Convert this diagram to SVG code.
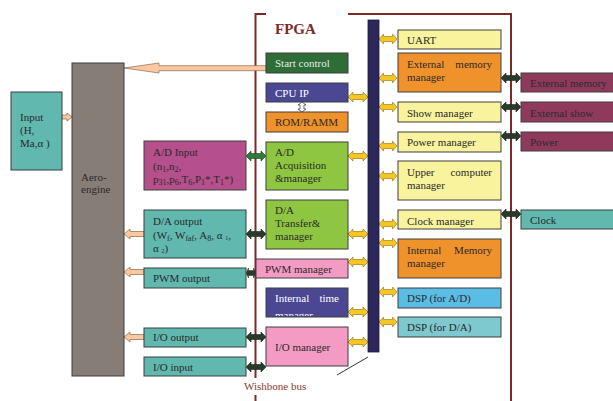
<svg xmlns="http://www.w3.org/2000/svg" width="613" height="401" viewBox="0 0 613 401">
<style>
text{font-family:"Liberation Serif","Times New Roman",serif;font-size:11px;fill:#2a2a2a}
.b{stroke:#3f3f3f;stroke-width:1}
.teal{fill:#60b8af}.grey{fill:#877d77}.mag{fill:#b5508c}.mar{fill:#8f3a5d}
.dg{fill:#2e6c38}.sl{fill:#4b4792}.or{fill:#f0922b}.lime{fill:#8fc641}
.pink{fill:#f49bc3}.ly{fill:#f8f39c}.sky{fill:#5bbde6}.dsp{fill:#7ec8d0}
.ya{fill:#f7c620;stroke:#8a6a10;stroke-width:0.6}
.da{fill:#2a3a2a;stroke:#1a241a;stroke-width:0.6}
.ga{fill:#2d7a3a;stroke:#1a401e;stroke-width:0.6}
.pa{fill:#fbc8a0;stroke:#8a6a50;stroke-width:0.7}
</style>
<defs>
<path id="dbl" d="M0,0 L5,-5 L5,-2.5 L15,-2.5 L15,-5 L20,0 L15,5 L15,2.5 L5,2.5 L5,5 Z"/>
<path id="lft" d="M0,0 L6,-5 L6,-2.5 L20,-2.5 L20,2.5 L6,2.5 L6,5 Z"/>
<clipPath id="itc"><rect x="266" y="288" width="82" height="28"/></clipPath>
</defs>
<rect width="613" height="401" fill="#ffffff"/>

<g id="fpga">
<rect x="255.5" y="14" width="255.5" height="400" fill="none" stroke="#7b2a2a" stroke-width="2"/>
<rect x="266" y="10" width="82" height="8" fill="#ffffff"/>
<text x="275" y="34" style="font-size:15px;font-weight:bold;fill:#7b2a2a">FPGA</text>
<rect x="237" y="378" width="105" height="17" fill="#ffffff"/>
<text x="244" y="390" style="fill:#8b3a2a">Wishbone bus</text>
<line x1="337" y1="375" x2="368" y2="357" stroke="#333" stroke-width="1"/>
</g>

<g id="connectors">
<polygon class="pa" points="124,68 159,63 159,65.7 266,65.7 266,70.7 159,70.7 159,73"/>
<polygon class="pa" points="72,117 67,113 67,115 62,115 62,119 67,119 67,121"/>
<use href="#lft" class="pa" transform="translate(124,234)"/>
<use href="#lft" class="pa" transform="translate(124,272)"/>
<use href="#lft" class="pa" transform="translate(124,337)"/>
<use href="#dbl" class="ga" transform="translate(246,156)"/>
<use href="#dbl" class="da" transform="translate(246,234)"/>
<use href="#dbl" class="da" transform="translate(246,273) scale(0.5,1)"/>
<use href="#dbl" class="da" transform="translate(246,337)"/>
<use href="#dbl" class="da" transform="translate(246,367)"/>
<path d="M302,102 L298,105 L300,105 L300,109 L298,109 L302,112 L306,109 L304,109 L304,105 L306,105 Z" fill="#ffffff" stroke="#333" stroke-width="0.7"/>
<use href="#dbl" class="ya" transform="translate(348,97)"/>
<use href="#dbl" class="ya" transform="translate(348,156)"/>
<use href="#dbl" class="ya" transform="translate(348,234)"/>
<use href="#dbl" class="ya" transform="translate(348,262)"/>
<use href="#dbl" class="ya" transform="translate(348,312)"/>
<use href="#dbl" class="ya" transform="translate(348,342)"/>
<use href="#dbl" class="ya" transform="translate(379,39) scale(0.9,1)"/>
<use href="#dbl" class="ya" transform="translate(379,78) scale(0.9,1)"/>
<use href="#dbl" class="ya" transform="translate(379,107) scale(0.9,1)"/>
<use href="#dbl" class="ya" transform="translate(379,146) scale(0.9,1)"/>
<use href="#dbl" class="ya" transform="translate(379,176) scale(0.9,1)"/>
<use href="#dbl" class="ya" transform="translate(379,224) scale(0.9,1)"/>
<use href="#dbl" class="ya" transform="translate(379,243) scale(0.9,1)"/>
<use href="#dbl" class="ya" transform="translate(379,292) scale(0.9,1)"/>
<use href="#dbl" class="ya" transform="translate(379,322) scale(0.9,1)"/>
<use href="#dbl" class="da" transform="translate(501,78)"/>
<use href="#dbl" class="da" transform="translate(501,107)"/>
<use href="#dbl" class="da" transform="translate(501,136)"/>
<use href="#dbl" class="da" transform="translate(501,214)"/>
</g>

<g id="input"><rect class="b teal" x="11" y="92" width="51" height="78"/>
<text x="20" y="121">Input</text><text x="20" y="134">(H,</text><text x="20" y="147">Ma,α )</text></g>
<g id="aero-engine"><rect class="b grey" x="72" y="63" width="52" height="313"/>
<text x="81" y="181">Aero-</text><text x="81" y="193">engine</text></g>

<g id="ad-input"><rect class="b mag" x="144" y="141" width="102" height="49"/>
<text x="153" y="156">A/D Input</text>
<text x="153" y="170">(n<tspan font-size="8" dy="2">1</tspan><tspan dy="-2">,n</tspan><tspan font-size="8" dy="2">2</tspan><tspan dy="-2">,</tspan></text>
<text x="153" y="183">p<tspan font-size="8" dy="2">31</tspan><tspan dy="-2">,p</tspan><tspan font-size="8" dy="2">6</tspan><tspan dy="-2">,T</tspan><tspan font-size="8" dy="2">6</tspan><tspan dy="-2">,P</tspan><tspan font-size="8" dy="2">1</tspan><tspan dy="-2">*,T</tspan><tspan font-size="8" dy="2">1</tspan><tspan dy="-2">*)</tspan></text></g>
<g id="da-output"><rect class="b teal" x="144" y="210" width="102" height="48"/>
<text x="153" y="225">D/A output</text>
<text x="153" y="239">(W<tspan font-size="8" dy="2">f</tspan><tspan dy="-2">, W</tspan><tspan font-size="8" dy="2">faf</tspan><tspan dy="-2">, A</tspan><tspan font-size="8" dy="2">8</tspan><tspan dy="-2">, α  </tspan><tspan font-size="6" dy="1">1</tspan><tspan dy="-1">,</tspan></text>
<text x="153" y="252">α <tspan font-size="6" dy="1">2</tspan><tspan dy="-1">)</tspan></text></g>
<g id="pwm-output"><rect class="b teal" x="144" y="268" width="102" height="20"/><text x="153" y="282">PWM output</text></g>
<g id="io-output"><rect class="b teal" x="144" y="328" width="102" height="19"/><text x="153" y="341">I/O output</text></g>
<g id="io-input"><rect class="b teal" x="144" y="357" width="102" height="19"/><text x="153" y="371">I/O input</text></g>

<g id="start-control"><rect class="b dg" x="266" y="53" width="82" height="20"/><text x="275" y="67" style="fill:#e6ece6">Start control</text></g>
<g id="cpu-ip"><rect class="b sl" x="266" y="83" width="82" height="19"/><text x="275" y="97" style="fill:#ffffff">CPU IP</text></g>
<g id="rom-ramm"><rect class="b or" x="266" y="112" width="82" height="20"/><text x="275" y="126">ROM/RAMM</text></g>
<g id="ad-acq"><rect class="b lime" x="266" y="142" width="82" height="48"/>
<text x="275" y="156">A/D</text><text x="275" y="169">Acquisition</text><text x="275" y="182">&amp;manager</text></g>
<g id="da-transfer"><rect class="b lime" x="266" y="200" width="82" height="49"/>
<text x="275" y="214">D/A</text><text x="275" y="227">Transfer&amp;</text><text x="275" y="240">manager</text></g>
<g id="pwm-manager"><rect class="b pink" x="256" y="259" width="92" height="19"/><text x="265" y="273">PWM manager</text></g>
<g id="internal-time"><rect class="b sl" x="266" y="288" width="82" height="29"/>
<text x="275" y="302" style="fill:#ffffff">Internal</text><text x="339" y="302" text-anchor="end" style="fill:#ffffff">time</text>
<text x="275" y="319" clip-path="url(#itc)" style="fill:#ffffff">manager</text></g>
<g id="io-manager"><rect class="b pink" x="266" y="327" width="82" height="39"/><text x="275" y="351">I/O manager</text></g>

<g id="bus"><rect x="368" y="20" width="11" height="332" fill="#2d285c" stroke="#1a1838" stroke-width="0.8"/></g>

<g id="uart"><rect class="b ly" x="398" y="30" width="103" height="19"/><text x="407" y="44">UART</text></g>
<g id="ext-mem-mgr"><rect class="b or" x="398" y="53" width="103" height="39"/>
<text x="407" y="68">External</text><text x="492" y="68" text-anchor="end">memory</text><text x="407" y="81">manager</text></g>
<g id="show-mgr"><rect class="b ly" x="398" y="102" width="103" height="20"/><text x="407" y="117">Show  manager</text></g>
<g id="power-mgr"><rect class="b ly" x="398" y="132" width="103" height="20"/><text x="407" y="146">Power manager</text></g>
<g id="upper-mgr"><rect class="b ly" x="398" y="161" width="103" height="39"/>
<text x="407" y="176">Upper</text><text x="492" y="176" text-anchor="end">computer</text><text x="407" y="189">manager</text></g>
<g id="clock-mgr"><rect class="b ly" x="398" y="210" width="103" height="19"/><text x="407" y="225">Clock  manager</text></g>
<g id="int-mem-mgr"><rect class="b or" x="398" y="239" width="103" height="39"/>
<text x="407" y="254">Internal</text><text x="492" y="254" text-anchor="end">Memory</text><text x="407" y="267">manager</text></g>
<g id="dsp-ad"><rect class="b sky" x="398" y="288" width="103" height="20"/><text x="407" y="302">DSP (for A/D)</text></g>
<g id="dsp-da"><rect class="b dsp" x="398" y="317" width="103" height="20"/><text x="407" y="331">DSP (for D/A)</text></g>

<g id="external-memory"><rect class="b mar" x="521" y="73" width="96" height="19"/><text x="530" y="87">External memory</text></g>
<g id="external-show"><rect class="b mar" x="521" y="102" width="96" height="20"/><text x="530" y="117">External show</text></g>
<g id="power"><rect class="b mar" x="521" y="132" width="96" height="19"/><text x="530" y="146">Power</text></g>
<g id="clock"><rect class="b teal" x="521" y="210" width="96" height="19"/><text x="530" y="224">Clock</text></g>
</svg>
